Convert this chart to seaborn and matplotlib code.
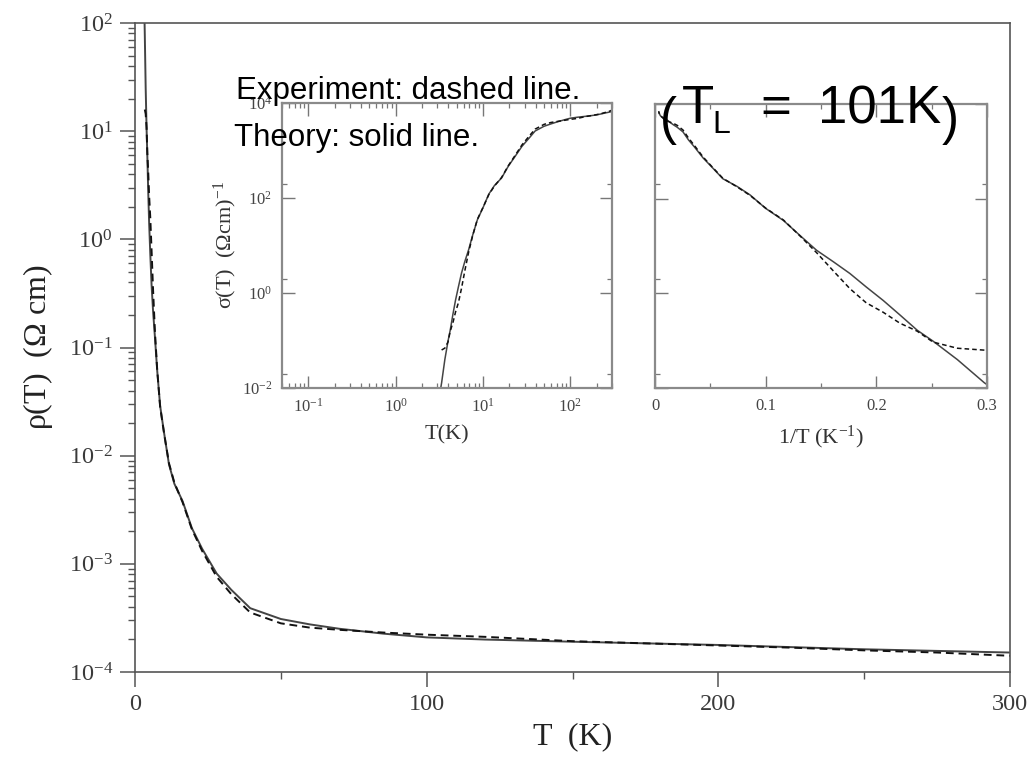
import numpy as np
import matplotlib
matplotlib.use("Agg")
import matplotlib.pyplot as plt
from matplotlib import font_manager
from matplotlib.ticker import LogLocator, FixedLocator, NullFormatter, LogFormatterSciNotation, MultipleLocator
import seaborn as sns

# Temperatures (K) and log10 resistivity (Ohm cm) for the theory curve and the measurement
T_K = [3.25, 3.36, 3.66, 3.98, 4.22, 4.52, 4.85, 5.24, 5.68, 6.2, 6.85, 7.6, 8.62,
       10.0, 11.65, 13.5, 16.3, 19.5, 23.0, 28.0, 33.0, 39.5, 50, 60, 70, 85, 100,
       120, 150, 175, 200, 225, 250, 275, 300]
log_rho_theory = [2.05, 1.89, 1.40, 1.01, 0.78, 0.455, 0.15, -0.135, -0.42, -0.665, -0.91,
                  -1.21, -1.54, -1.795, -2.08, -2.26, -2.42, -2.67, -2.86, -3.09, -3.24,
                  -3.41, -3.51, -3.56, -3.60, -3.645, -3.68, -3.70, -3.72, -3.735, -3.75,
                  -3.77, -3.79, -3.805, -3.82]

T_exp_K = T_K[1:]
log_rho_exp = [1.20, 1.16, 1.03, 0.80, 0.63, 0.40, 0.20, -0.10, -0.47, -0.86, -1.20,
               -1.55, -1.80, -2.07, -2.25, -2.43, -2.68, -2.88, -3.12, -3.28, -3.45,
               -3.55, -3.59, -3.61, -3.635, -3.655, -3.675, -3.715, -3.735, -3.755,
               -3.775, -3.80, -3.82, -3.85]

x_ticks_main = [0, 100, 200, 300]
x_ticks_inv = [0, 0.1, 0.2, 0.3]
x_ticklabels_inv = ["0", "0.1", "0.2", "0.3"]

T_th = np.array(T_K, dtype=float)
T_ex = np.array(T_exp_K, dtype=float)
rho_th = 10.0 ** np.array(log_rho_theory)
rho_ex = 10.0 ** np.array(log_rho_exp)
sig_th = 1.0 / rho_th
sig_ex = 1.0 / rho_ex

sns.set_theme(style="ticks")
plt.rcParams["font.family"] = ["Liberation Serif", "DejaVu Serif"]
plt.rcParams["mathtext.fontset"] = "stix"
plt.rcParams["mathtext.default"] = "regular"

W, H = 1032, 763
fig = plt.figure(figsize=(W / 100, H / 100), dpi=100)
fig.patch.set_facecolor("white")


def box(left, top, right, bottom):
    return [left / W, 1 - bottom / H, (right - left) / W, (bottom - top) / H]


solid_c = "#444444"
dash_c = "#111111"
tick_c = "#3a3a3a"

# ---- main panel: resistivity vs temperature ----
ax = fig.add_axes(box(135, 23, 1010, 672))
sns.lineplot(x=T_th, y=rho_th, ax=ax, color=solid_c, lw=1.4, sort=False, estimator=None)
sns.lineplot(x=T_ex, y=rho_ex, ax=ax, color=dash_c, lw=1.4, sort=False, estimator=None,
             linestyle=(0, (4, 2.5)))
ax.set_yscale("log")
ax.set_xlim(0, 300)
ax.set_ylim(1e-4, 1e2)
ax.set_xticks(x_ticks_main)
ax.xaxis.set_minor_locator(MultipleLocator(50))
ax.yaxis.set_major_locator(LogLocator(base=10, numticks=20))
ax.yaxis.set_minor_locator(LogLocator(base=10, subs=np.arange(2, 10), numticks=50))
ax.yaxis.set_minor_formatter(NullFormatter())
ax.yaxis.set_major_formatter(LogFormatterSciNotation())
ax.tick_params(which="major", direction="out", length=11, width=1.1, color="#555555",
               labelsize=17.5, labelcolor=tick_c, pad=5)
ax.tick_params(which="minor", direction="out", length=5, width=1.0, color="#555555")
ax.tick_params(top=False, right=False, which="both")
for s in ax.spines.values():
    s.set_color("#555555")
    s.set_linewidth(1.2)
ax.set_xlabel("T  (K)", fontsize=23, color="#222222", labelpad=5)
ax.set_ylabel(r"$\rho$(T)  ($\Omega$ cm)", fontsize=23, color="#222222", labelpad=10)

inset_spine = "#8a8a8a"


def style_inset(a):
    for s in a.spines.values():
        s.set_color(inset_spine)
        s.set_linewidth(1.6)
    a.tick_params(which="major", direction="in", length=9, width=1.0, color="#777777",
                  labelsize=12, labelcolor="#444444", top=True, right=True, pad=7)
    a.tick_params(which="minor", direction="in", length=3.5, width=0.9, color="#777777",
                  top=True, right=True)
    a.set_facecolor("white")


# ---- left inset: conductivity vs temperature, log-log ----
a1 = fig.add_axes(box(282, 103, 612, 388))
sns.lineplot(x=T_th, y=sig_th, ax=a1, color=solid_c, lw=1.1, sort=False, estimator=None)
sns.lineplot(x=T_ex, y=sig_ex, ax=a1, color=dash_c, lw=1.1, sort=False, estimator=None,
             linestyle=(0, (3, 2)))
a1.set_xscale("log")
a1.set_yscale("log")
a1.set_xlim(0.05, 300)
a1.set_ylim(1e-2, 1e4)
a1.xaxis.set_major_locator(FixedLocator([0.1, 1, 10, 100]))
a1.xaxis.set_minor_locator(LogLocator(base=10, subs=np.arange(2, 10), numticks=50))
a1.xaxis.set_major_formatter(LogFormatterSciNotation())
a1.xaxis.set_minor_formatter(NullFormatter())
a1.yaxis.set_major_locator(FixedLocator([1e-2, 1, 1e2, 1e4]))
a1.yaxis.set_minor_locator(FixedLocator([2e-2, 2, 2e2]))
a1.yaxis.set_major_formatter(LogFormatterSciNotation())
a1.yaxis.set_minor_formatter(NullFormatter())
style_inset(a1)
a1.set_xlabel("T(K)", fontsize=16, color="#333333", labelpad=7)
a1.set_ylabel(r"$\sigma$(T)  ($\Omega$cm)$^{-1}$", fontsize=16, color="#333333", labelpad=2)

# ---- right inset: conductivity vs inverse temperature ----
a2 = fig.add_axes(box(655, 104, 987, 388))
sns.lineplot(x=1.0 / T_th, y=sig_th, ax=a2, color=solid_c, lw=1.1, sort=False, estimator=None)
sns.lineplot(x=1.0 / T_ex, y=sig_ex, ax=a2, color=dash_c, lw=1.1, sort=False, estimator=None,
             linestyle=(0, (3, 2)))
a2.set_yscale("log")
a2.set_xlim(0, 0.3)
a2.set_ylim(1e-2, 1e4)
a2.set_xticks(x_ticks_inv)
a2.set_xticklabels(x_ticklabels_inv)
a2.xaxis.set_minor_locator(MultipleLocator(0.05))
a2.yaxis.set_major_locator(FixedLocator([1e-2, 1, 1e2, 1e4]))
a2.yaxis.set_minor_locator(FixedLocator([2e-2, 2, 2e2]))
a2.yaxis.set_major_formatter(NullFormatter())
a2.yaxis.set_minor_formatter(NullFormatter())
style_inset(a2)
a2.set_xlabel(r"1/T (K$^{-1}$)", fontsize=16, color="#333333", labelpad=7)

# ---- annotations ----
sans = ["Liberation Sans", "DejaVu Sans"]
names = {f.name for f in font_manager.fontManager.ttflist}
narrow = ["Liberation Sans Narrow"] + sans if "Liberation Sans Narrow" in names else sans


def ftext(x, y, s, **kw):
    fig.text(x / W, 1 - y / H, s, ha="left", va="baseline", zorder=10, color="black", **kw)


ftext(236, 99, "Experiment: dashed line.", fontsize=22.5, family=sans)
ftext(234, 146, "Theory: solid line.", fontsize=22.5, family=sans)
ftext(660, 134, "(", fontsize=37, family=narrow)
ftext(682, 123, "T", fontsize=38, family=narrow)
ftext(712, 133, "L", fontsize=23, family=narrow)
ftext(760, 123, "=", fontsize=38, family=narrow)
ftext(818, 123, "101K", fontsize=38, family=narrow)
ftext(942, 134, ")", fontsize=37, family=narrow)

fig.savefig("out.png", dpi=100, facecolor="white")
